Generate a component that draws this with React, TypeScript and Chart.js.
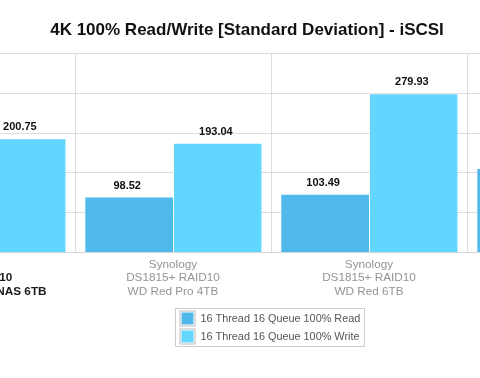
import React, { useEffect, useRef } from "react";
import { Chart, registerables } from "chart.js";

Chart.register(...registerables);

const TITLE = "4K 100% Read/Write [Standard Deviation] - iSCSI";
const categories: string[][] = [
  ["HGST", "HDD RAID10", "HGST Deskstar NAS 6TB"],
  ["Synology", "DS1815+ RAID10", "WD Red Pro 4TB"],
  ["Synology", "DS1815+ RAID10", "WD Red 6TB"],
  ["Synology", "DS1815+ RAID10", "Seagate NAS 6TB"],
];
const seriesNames = ["16 Thread 16 Queue 100% Read", "16 Thread 16 Queue 100% Write"];
const readValues = [96.84, 98.52, 103.49, 148.37];
const writeValues = [200.75, 193.04, 279.93, 221.6];
const yMin = 0;
const yMax = 350;
const yStep = 70;
const highlightIndex = 0;

const FONT = "'Liberation Sans', Arial, Helvetica, sans-serif";

const valueLabels = {
  id: "valueLabels",
  afterDatasetsDraw(chart: any) {
    const ctx = chart.ctx;
    ctx.save();
    ctx.font = `bold 11px ${FONT}`;
    ctx.fillStyle = "#111";
    ctx.textAlign = "center";
    ctx.textBaseline = "middle";
    chart.data.datasets.forEach((ds: any, di: number) => {
      const meta = chart.getDatasetMeta(di);
      meta.data.forEach((el: any, i: number) => {
        const v = ds.data[i];
        ctx.fillText(Number(v).toFixed(2), el.x - 1.5, el.y - 11);
      });
    });
    ctx.restore();
  },
};

const boxLegend = {
  id: "boxLegend",
  afterDraw(chart: any) {
    const ctx = chart.ctx;
    const area = chart.chartArea;
    ctx.save();
    ctx.font = `10.85px ${FONT}`;
    const names = chart.data.datasets.map((d: any) => d.label);
    const textW = Math.max(...names.map((n: string) => ctx.measureText(n).width));
    const w = Math.round(textW + 29);
    const h = 38;
    const cx = (area.left + area.right) / 2 - 2;
    const left = Math.round(cx - w / 2) + 0.5;
    const top = Math.round(area.bottom + 55) + 0.5;
    ctx.strokeStyle = "#cccccc";
    ctx.lineWidth = 1;
    ctx.strokeRect(left, top, w, h);
    chart.data.datasets.forEach((d: any, i: number) => {
      const cy = top + 10 + i * 18;
      const sx = left + 4.5;
      ctx.strokeStyle = "#bbbbbb";
      ctx.strokeRect(sx, cy - 7.5, 15, 15);
      ctx.fillStyle = d.backgroundColor;
      ctx.fillRect(sx + 1.5, cy - 6, 12, 12);
      ctx.fillStyle = "#555";
      ctx.textAlign = "left";
      ctx.textBaseline = "middle";
      ctx.fillText(d.label, sx + 20.5, cy);
    });
    ctx.restore();
  },
};

export default function App() {
  const ref = useRef<HTMLCanvasElement | null>(null);

  useEffect(() => {
    if (!ref.current) return;
    const edge = { top: 1, left: 1, right: 0, bottom: 0 };
    const chart = new Chart(ref.current, {
      type: "bar",
      data: {
        labels: categories,
        datasets: [
          {
            label: seriesNames[0],
            data: readValues,
            backgroundColor: "#4fb9eb",
            borderColor: "rgba(255,255,255,0.35)",
            borderWidth: edge,
            borderSkipped: false,
            categoryPercentage: 0.905,
            barPercentage: 1.0,
          },
          {
            label: seriesNames[1],
            data: writeValues,
            backgroundColor: "#63d6ff",
            borderColor: "rgba(255,255,255,0.35)",
            borderWidth: edge,
            borderSkipped: false,
            categoryPercentage: 0.905,
            barPercentage: 1.0,
          },
        ],
      },
      options: {
        responsive: false,
        animation: false,
        devicePixelRatio: 1,
        layout: { padding: { left: 0, right: 0, top: 0, bottom: 74 } },
        plugins: {
          legend: { display: false },
          tooltip: { enabled: false },
          title: {
            display: true,
            text: TITLE,
            color: "#111",
            font: { family: FONT, size: 17, weight: "bold" },
            padding: { top: 20, bottom: 13 },
          },
        },
        scales: {
          x: {
            grid: { color: "#dddddd", drawTicks: false, offset: true },
            border: { color: "#d6d6d6" },
            ticks: {
              padding: 6,
              maxRotation: 0,
              autoSkip: false,
              color: (c: any) => (c.index === highlightIndex ? "#1a1a1a" : "#949494"),
              font: (c: any) => ({
                family: FONT,
                size: 11.75,
                weight: c.index === highlightIndex ? "bold" : "normal",
                lineHeight: 1.12,
              }),
            },
          },
          y: {
            min: yMin,
            max: yMax,
            afterFit: (s: any) => {
              s.width = 48;
            },
            grid: { color: "#dddddd", drawTicks: false },
            border: { display: false },
            ticks: { stepSize: yStep, color: "#999", font: { family: FONT, size: 11 } },
          },
        },
      },
      plugins: [valueLabels, boxLegend],
    });
    return () => chart.destroy();
  }, []);

  return (
    <div
      style={{
        position: "fixed",
        left: 0,
        top: 0,
        width: 480,
        height: 378,
        overflow: "hidden",
        background: "#fff",
      }}
    >
      <canvas
        ref={ref}
        width={832}
        height={378}
        style={{ position: "absolute", left: -169, top: 0, width: 832, height: 378 }}
      />
    </div>
  );
}
